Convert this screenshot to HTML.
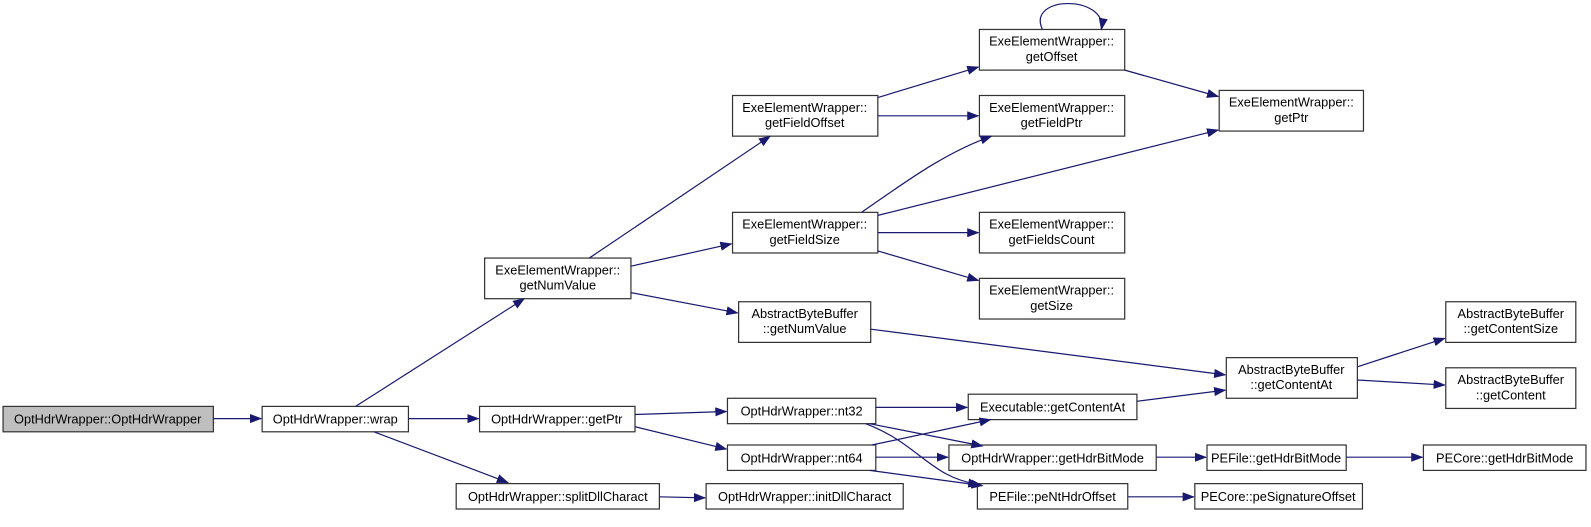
<!DOCTYPE html>
<html><head><meta charset="utf-8"><style>
html,body{margin:0;padding:0;background:#fff;width:1591px;height:527px;overflow:hidden}
svg text{font-family:"Liberation Sans",sans-serif;font-size:12.6px;fill:#000;text-anchor:middle}
</style></head><body>
<svg width="1591" height="527" viewBox="0 0 1591 527" xmlns="http://www.w3.org/2000/svg">
<defs><marker id="a" markerWidth="12" markerHeight="9" refX="11" refY="4.5" orient="auto" markerUnits="userSpaceOnUse"><path d="M0,0 L12,4.5 L0,9 Z" fill="#191970"/></marker></defs>
<g transform="scale(1.016)">
<g fill="#fff" stroke="#333" stroke-width="1.2">
<rect x="3" y="400" width="207" height="25" fill="#bfbfbf"/>
<rect x="258" y="400" width="144" height="25"/>
<rect x="477" y="254" width="144" height="40"/>
<rect x="472" y="400" width="153" height="25"/>
<rect x="449" y="476" width="200" height="25"/>
<rect x="721" y="94" width="143" height="40"/>
<rect x="721" y="209" width="143" height="40"/>
<rect x="727" y="297" width="130" height="40"/>
<rect x="716" y="392" width="146" height="25"/>
<rect x="716" y="438" width="146" height="25"/>
<rect x="695" y="476" width="194" height="25"/>
<rect x="964" y="29" width="143" height="40"/>
<rect x="964" y="94" width="143" height="40"/>
<rect x="964" y="209" width="143" height="40"/>
<rect x="964" y="274" width="143" height="40"/>
<rect x="953" y="388" width="166" height="25"/>
<rect x="934" y="438" width="204" height="25"/>
<rect x="962" y="476" width="148" height="25"/>
<rect x="1200" y="89" width="142" height="40"/>
<rect x="1207" y="352" width="129" height="40"/>
<rect x="1188" y="438" width="137" height="25"/>
<rect x="1176" y="476" width="165" height="25"/>
<rect x="1423" y="297" width="128" height="40"/>
<rect x="1423" y="362" width="128" height="40"/>
<rect x="1401" y="438" width="160" height="25"/>
</g>
<g>
<text x="106" y="417">OptHdrWrapper::OptHdrWrapper</text>
<text x="330" y="417">OptHdrWrapper::wrap</text>
<text x="549" y="270">ExeElementWrapper::</text><text x="549" y="285">getNumValue</text>
<text x="548" y="417">OptHdrWrapper::getPtr</text>
<text x="549" y="493">OptHdrWrapper::splitDllCharact</text>
<text x="792" y="110">ExeElementWrapper::</text><text x="792" y="125">getFieldOffset</text>
<text x="792" y="225">ExeElementWrapper::</text><text x="792" y="240">getFieldSize</text>
<text x="792" y="313">AbstractByteBuffer</text><text x="792" y="328">::getNumValue</text>
<text x="789" y="409">OptHdrWrapper::nt32</text>
<text x="789" y="455">OptHdrWrapper::nt64</text>
<text x="792" y="493">OptHdrWrapper::initDllCharact</text>
<text x="1035" y="45">ExeElementWrapper::</text><text x="1035" y="60">getOffset</text>
<text x="1035" y="110">ExeElementWrapper::</text><text x="1035" y="125">getFieldPtr</text>
<text x="1035" y="225">ExeElementWrapper::</text><text x="1035" y="240">getFieldsCount</text>
<text x="1035" y="290">ExeElementWrapper::</text><text x="1035" y="305">getSize</text>
<text x="1036" y="405">Executable::getContentAt</text>
<text x="1036" y="455">OptHdrWrapper::getHdrBitMode</text>
<text x="1036" y="493">PEFile::peNtHdrOffset</text>
<text x="1271" y="105">ExeElementWrapper::</text><text x="1271" y="120">getPtr</text>
<text x="1271" y="368">AbstractByteBuffer</text><text x="1271" y="383">::getContentAt</text>
<text x="1256" y="455">PEFile::getHdrBitMode</text>
<text x="1258" y="493">PECore::peSignatureOffset</text>
<text x="1487" y="313">AbstractByteBuffer</text><text x="1487" y="328">::getContentSize</text>
<text x="1487" y="378">AbstractByteBuffer</text><text x="1487" y="393">::getContent</text>
<text x="1481" y="455">PECore::getHdrBitMode</text>
</g>
<g stroke="#191970" stroke-width="1.2" fill="none" marker-end="url(#a)">
<path d="M210,412 L257,412"/>
<path d="M350,400 L516,294"/>
<path d="M402,412 L471,412"/>
<path d="M368,425 L500,475"/>
<path d="M649,489 L694,490"/>
<path d="M580,254 L758,134"/>
<path d="M621,262 L720,240"/>
<path d="M621,288 L726,308"/>
<path d="M625,408 L715,405"/>
<path d="M625,420 L715,442"/>
<path d="M864,96 L963,66"/>
<path d="M864,114 L963,114"/>
<path d="M1107,69 L1199,95"/>
<path d="M848,209 C890,180 930,150 976,134"/>
<path d="M864,212 L1199,128"/>
<path d="M864,229 L963,229"/>
<path d="M864,247 L963,276"/>
<path d="M1026,29 C1010,-5 1090,-5 1084,29"/>
<path d="M857,324 L1206,369"/>
<path d="M862,401 L952,401"/>
<path d="M856,417 L967,439"/>
<path d="M852,417 C905,437 915,470 964,477"/>
<path d="M858,438 L975,413"/>
<path d="M862,450 L933,450"/>
<path d="M856,463 L967,478"/>
<path d="M1119,395 L1206,384"/>
<path d="M1138,450 L1187,450"/>
<path d="M1110,489 L1175,489"/>
<path d="M1336,361 L1422,333"/>
<path d="M1336,374 L1422,379"/>
<path d="M1325,450 L1400,450"/>
</g>
</g>
</svg>
</body></html>
